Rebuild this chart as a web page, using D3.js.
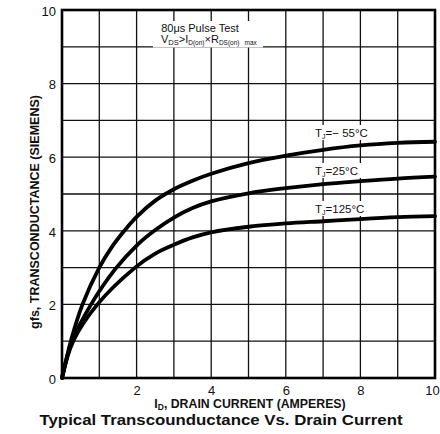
<!DOCTYPE html>
<html><head><meta charset="utf-8">
<script src="https://cdn.jsdelivr.net/npm/d3@7"></script>
<style>body{margin:0;background:#fff}svg{display:block}text{font-family:"Liberation Sans",Arial,sans-serif;fill:#111}</style>
</head><body>
<script>
// Data (I_D in amperes, gfs in siemens)
const curveM55 = [[0,0],[0.25,1.05],[0.55,2],[1.0,3.0],[1.33,3.55],[1.67,4.0],[2,4.38],[2.5,4.82],[3,5.13],[3.5,5.36],[4,5.55],[5,5.84],[6,6.04],[7,6.2],[8,6.32],[9,6.39],[10,6.42]];
const curve25 = [[0,0],[0.27,1],[0.78,2],[1.42,2.95],[2,3.6],[2.5,4.02],[3,4.36],[3.5,4.62],[4,4.8],[5,5.02],[6,5.16],[7,5.27],[8,5.35],[9,5.42],[10,5.47]];
const curve125 = [[0,0],[0.3,1],[0.95,2],[1.96,3],[2.5,3.38],[3,3.62],[3.5,3.82],[4,3.96],[5,4.11],[6,4.2],[7,4.26],[8,4.32],[9,4.37],[10,4.4]];
const xTicks = [2,4,6,8,10];
const yTicks = [0,2,4,6,8,10];
const gridVals = [1,2,3,4,5,6,7,8,9];

const W = 440, H = 434;
const svg = d3.select("body").append("svg").attr("width", W).attr("height", H);
const x = d3.scaleLinear().domain([0,10]).range([62,435]);
const y = d3.scaleLinear().domain([0,10]).range([378,10]);

// grid
const g = svg.append("g").attr("stroke","#111").attr("stroke-width",1.3);
gridVals.forEach(v=>{
  g.append("line").attr("x1",x(v)).attr("x2",x(v)).attr("y1",y(0)).attr("y2",y(10));
  g.append("line").attr("x1",x(0)).attr("x2",x(10)).attr("y1",y(v)).attr("y2",y(v));
});

// annotation box
svg.append("rect").attr("x",153).attr("y",21).attr("width",110).attr("height",26.5).attr("fill","#fff");
svg.append("text").attr("x",200).attr("y",32).attr("text-anchor","middle").attr("font-size",11)
  .text("80\u03BCs Pulse Test");
const a2 = svg.append("text").attr("x",161).attr("y",43).attr("font-size",11);
a2.append("tspan").text("V");
a2.append("tspan").attr("font-size",7.5).attr("dy",2).text("DS");
a2.append("tspan").attr("dy",-2).text(">I");
a2.append("tspan").attr("font-size",6.5).attr("dy",2).text("D(on)");
a2.append("tspan").attr("dy",-2).text("\u00D7R");
a2.append("tspan").attr("font-size",6.5).attr("dy",2).text("DS(on)");
a2.append("tspan").attr("font-size",6.5).attr("dx",5).text("max");

// curve labels
const labels = [["\u2212 55\u00B0C",137],["25\u00B0C",175],["125\u00B0C",213]];
labels.forEach(([t,yy])=>{
  svg.append("rect").attr("x",313).attr("y",yy-12).attr("width",t.length>5?62:56).attr("height",15).attr("fill","#fff");
});
labels.forEach(([t,yy])=>{
  const tx = svg.append("text").attr("x",315).attr("y",yy).attr("font-size",11.5);
  tx.append("tspan").text("T");
  tx.append("tspan").attr("font-size",7).attr("dy",2).text("J");
  tx.append("tspan").attr("dy",-2).text("=" + t);
});

// curves
const line = d3.line().x(d=>x(d[0])).y(d=>y(d[1])).curve(d3.curveCatmullRom.alpha(0.5));
[curveM55, curve25, curve125].forEach(c=>{
  svg.append("path").datum(c).attr("d",line).attr("fill","none").attr("stroke","#000").attr("stroke-width",3.8).attr("stroke-linecap","round");
});

// border
svg.append("rect").attr("x",x(0)).attr("y",y(10)).attr("width",x(10)-x(0)).attr("height",y(0)-y(10))
  .attr("fill","none").attr("stroke","#000").attr("stroke-width",2.6);

// axes
const yAxis = d3.axisLeft(y).tickValues(yTicks).tickSize(0).tickPadding(6).tickFormat(d3.format("d"));
const ya = svg.append("g").attr("transform",`translate(${x(0)},0)`).call(yAxis);
ya.select(".domain").remove();
ya.selectAll("text").attr("font-size",13).attr("font-family","Liberation Sans, Arial, sans-serif").attr("fill","#111").attr("dy","0.4em");
const xAxis = d3.axisBottom(x).tickValues(xTicks).tickSize(0).tickPadding(8).tickFormat(d3.format("d"));
const xa = svg.append("g").attr("transform",`translate(0,${y(0)})`).call(xAxis);
xa.select(".domain").remove();
xa.selectAll("text").attr("font-size",13).attr("font-family","Liberation Sans, Arial, sans-serif").attr("fill","#111");
xa.selectAll(".tick").filter(d=>d===10).select("text").attr("dx",-3);

// axis titles
const xt = svg.append("text").attr("x",250).attr("y",408).attr("text-anchor","middle").attr("font-size",12.3).attr("font-weight","bold");
xt.append("tspan").text("I");
xt.append("tspan").attr("font-size",8.5).attr("dy",2).text("D");
xt.append("tspan").attr("dy",-2).text(", DRAIN CURRENT (AMPERES)");
svg.append("text").attr("transform","translate(39,212) rotate(-90)").attr("text-anchor","middle")
  .attr("font-size",12.5).attr("font-weight","bold").text("gfs, TRANSCONDUCTANCE (SIEMENS)");
svg.append("text").attr("x",221).attr("y",425).attr("text-anchor","middle").attr("font-size",15.5).attr("font-weight","bold")
  .attr("textLength",363).attr("lengthAdjust","spacingAndGlyphs")
  .text("Typical Transcounductance Vs. Drain Current");
</script>
</body></html>
